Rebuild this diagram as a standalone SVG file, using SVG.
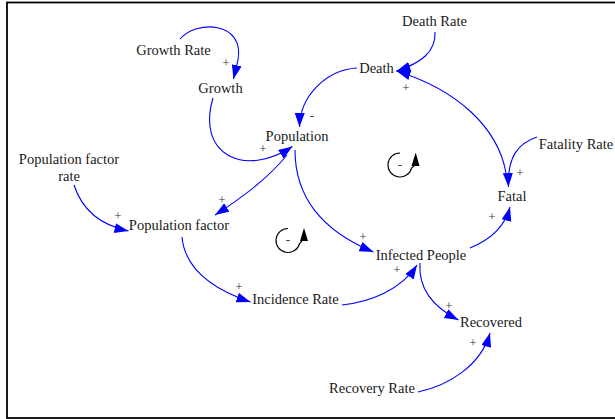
<svg xmlns="http://www.w3.org/2000/svg" width="615" height="419" viewBox="0 0 615 419">
<style>
.n{font-family:"Liberation Serif","Times New Roman",serif;font-size:14.5px;fill:#1a1a1a;text-anchor:middle}
.s{font-family:"Liberation Serif","Times New Roman",serif;font-size:13px;fill:#333;text-anchor:middle}
.c{fill:none;stroke:#0000ff;stroke-width:1.1;marker-end:url(#a)}
.l{fill:none;stroke:#000;stroke-width:1.1}
</style>
<defs>
<marker id="a" markerUnits="userSpaceOnUse" markerWidth="16" markerHeight="12" refX="14" refY="5" orient="auto" viewBox="0 0 16 12">
<path d="M0,0 L14,5 L0,10 z" fill="#0000ff"/>
</marker>
</defs>
<rect x="0" y="0" width="615" height="419" fill="#fff"/>
<rect x="7" y="2.5" width="700" height="415.5" fill="none" stroke="#000" stroke-width="1.8"/>

<g id="connectors">
<path class="c" d="M180,39 C196,20 245,21 238,60 L233.5,79"/>
<path class="c" d="M213,98 C196,155 245,178 292.5,146.5"/>
<path class="c" d="M357,68 C326,70 300,96 299.5,127"/>
<path class="c" d="M435,32 C436,52 421,63 396.5,71"/>
<path class="c" d="M506,173 C498,128 458,90 396.5,71"/>
<path class="c" d="M537,137 C519,143 507,156 508.5,187"/>
<path class="c" d="M470,248 C490,240 505,226 510,207"/>
<path class="c" d="M295,150 C295,196 320,230 373.5,252"/>
<path class="c" d="M287,155 C270,176 245,196 215,215"/>
<path class="c" d="M74,185 C82,210 100,225 128.5,231"/>
<path class="c" d="M182,237 C185,270 215,290 250.5,302"/>
<path class="c" d="M342,305 C370,302 401,290 417,265"/>
<path class="c" d="M420,263 C418,290 435,308 458.5,320"/>
<path class="c" d="M418,392 C450,385 481,365 490,333"/>
</g>

<g id="signs">
<text class="s" x="226" y="66.5">+</text>
<text class="s" x="263" y="153">+</text>
<text class="s" x="312" y="120">-</text>
<text class="s" x="406" y="92">+</text>
<text class="s" x="520" y="176.5">+</text>
<text class="s" x="492" y="220.5">+</text>
<text class="s" x="363" y="240.5">+</text>
<text class="s" x="222" y="203.5">+</text>
<text class="s" x="118" y="219.5">+</text>
<text class="s" x="239" y="290.5">+</text>
<text class="s" x="397" y="274">+</text>
<text class="s" x="449" y="309.5">+</text>
<text class="s" x="473" y="346.5">+</text>
</g>

<g id="loop1">
<path class="l" d="M400,153 A12,12 0 1,0 411.6,168 L414,166"/>
<polygon points="411.5,166 419.5,166 415.7,152.5" fill="#000"/>
<text class="s" x="400" y="169">-</text>
</g>
<g id="loop2">
<path class="l" d="M288,228.5 A12,12 0 1,0 299.6,243.5 L302,241"/>
<polygon points="300,241 308,241 304,228" fill="#000"/>
<text class="s" x="288" y="244">-</text>
</g>

<g id="growth-rate"><text class="n" x="173.5" y="55">Growth Rate</text></g>
<g id="growth"><text class="n" x="220.5" y="92.5">Growth</text></g>
<g id="population"><text class="n" x="297" y="141">Population</text></g>
<g id="death-rate"><text class="n" x="434.5" y="26">Death Rate</text></g>
<g id="death"><text class="n" x="376.5" y="73">Death</text></g>
<g id="fatality-rate"><text class="n" x="576" y="149">Fatality Rate</text></g>
<g id="fatal"><text class="n" x="512" y="201">Fatal</text></g>
<g id="infected-people"><text class="n" x="421" y="259.5">Infected People</text></g>
<g id="population-factor-rate"><text class="n" x="69" y="164">Population factor</text><text class="n" x="69" y="181">rate</text></g>
<g id="population-factor"><text class="n" x="179" y="230">Population factor</text></g>
<g id="incidence-rate"><text class="n" x="295.5" y="303.5">Incidence Rate</text></g>
<g id="recovered"><text class="n" x="491" y="327">Recovered</text></g>
<g id="recovery-rate"><text class="n" x="372" y="393">Recovery Rate</text></g>
</svg>
